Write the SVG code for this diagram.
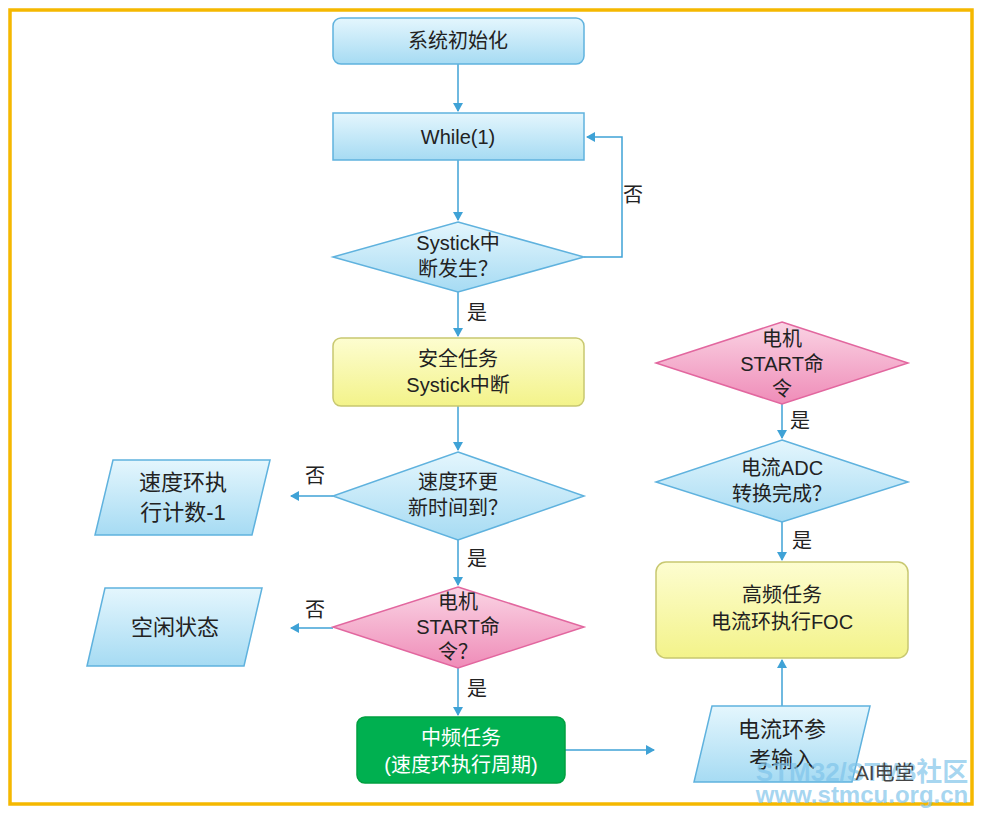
<svg xmlns="http://www.w3.org/2000/svg" width="985" height="817" viewBox="0 0 985 817">
<defs>
<linearGradient id="gb" x1="0" y1="0" x2="0" y2="1"><stop offset="0" stop-color="#e4f6fd"/><stop offset="1" stop-color="#a6dbf3"/></linearGradient>
<linearGradient id="gy" x1="0" y1="0" x2="0" y2="1"><stop offset="0" stop-color="#fdfdd0"/><stop offset="1" stop-color="#f3f38a"/></linearGradient>
<linearGradient id="gp" x1="0" y1="0" x2="0" y2="1"><stop offset="0" stop-color="#fad4e4"/><stop offset="1" stop-color="#ef8cb8"/></linearGradient>
<marker id="ar" markerWidth="10" markerHeight="10" refX="8" refY="5" orient="auto" markerUnits="userSpaceOnUse"><path d="M0,0 L9,5 L0,10 z" fill="#3fa2d6"/></marker>
<style>
.b{fill:url(#gb);stroke:#5fb2de;stroke-width:1.5}
.y{fill:url(#gy);stroke:#c8c870;stroke-width:1.5}
.p{fill:url(#gp);stroke:#e2679f;stroke-width:1.5}
.g{fill:#00b050;stroke:#00a040;stroke-width:1.5}
.t{font-family:"Liberation Sans","Noto Sans CJK SC",sans-serif;font-size:20px;fill:#222;text-anchor:middle}
.w{fill:#fff}
.l{font-family:"Noto Sans CJK SC",sans-serif;font-size:20px;fill:#222}
.c{fill:none;stroke:#3fa2d6;stroke-width:1.5;marker-end:url(#ar)}
</style>
</defs>
<rect x="10" y="10" width="962" height="794" fill="#fff" stroke="#f5b800" stroke-width="3.5"/>
<g id="connectors">
<path class="c" d="M458,64 V111"/>
<path class="c" d="M458,160 V220"/>
<path class="c" d="M584,257 H622 V137 H587"/>
<path class="c" d="M458,292 V336"/>
<path class="c" d="M458,406 V450"/>
<path class="c" d="M333,496 H291"/>
<path class="c" d="M458,540 V585"/>
<path class="c" d="M333,628 H291"/>
<path class="c" d="M458,668 V715"/>
<path class="c" d="M565,750 H654"/>
<path class="c" d="M782,706 V660"/>
<path class="c" d="M782,522 V560"/>
<path class="c" d="M782,404 V438"/>
<text class="l" x="623" y="202">否</text>
<text class="l" x="467" y="320">是</text>
<text class="l" x="305" y="483">否</text>
<text class="l" x="467" y="566">是</text>
<text class="l" x="305" y="617">否</text>
<text class="l" x="467" y="696">是</text>
<text class="l" x="790" y="428">是</text>
<text class="l" x="792" y="548">是</text>
</g>
<g id="init"><rect class="b" x="333" y="18" width="251" height="46" rx="8"/><text class="t" x="458" y="48">系统初始化</text></g>
<g id="while"><rect class="b" x="333" y="113" width="251" height="47"/><text class="t" x="458" y="144">While(1)</text></g>
<g id="d1"><polygon class="b" points="458,222 584,257 458,292 333,257"/><text class="t" x="458" y="250">Systick中</text><text class="t" x="458" y="276">断发生？</text></g>
<g id="safe"><rect class="y" x="333" y="338" width="251" height="68" rx="8"/><text class="t" x="458" y="366">安全任务</text><text class="t" x="458" y="392">Systick中断</text></g>
<g id="d2"><polygon class="b" points="458,452 584,496 458,540 333,496"/><text class="t" x="458" y="489">速度环更</text><text class="t" x="458" y="515">新时间到？</text></g>
<g id="cnt"><polygon class="b" points="113,460 270,460 252,535 95,535"/><text class="t" x="183" y="490" style="font-size:22px">速度环执</text><text class="t" x="183" y="520" style="font-size:22px">行计数-1</text></g>
<g id="d3"><polygon class="p" points="458,587 584,627 458,668 333,627"/><text class="t" x="458" y="609">电机</text><text class="t" x="458" y="634">START命</text><text class="t" x="458" y="659">令？</text></g>
<g id="idle"><polygon class="b" points="105,588 262,588 244,666 87,666"/><text class="t" x="175" y="635" style="font-size:22px">空闲状态</text></g>
<g id="mid"><rect class="g" x="357" y="717" width="208" height="66" rx="8"/><text class="t w" x="461" y="745">中频任务</text><text class="t w" x="461" y="772">(速度环执行周期)</text></g>
<g id="ref"><polygon class="b" points="712,706 870,706 852,782 694,782"/><text class="t" x="782" y="737" style="font-size:22px">电流环参</text><text class="t" x="782" y="767" style="font-size:22px">考输入</text></g>
<g id="high"><rect class="y" x="656" y="562" width="252" height="96" rx="10"/><text class="t" x="782" y="602">高频任务</text><text class="t" x="782" y="629">电流环执行FOC</text></g>
<g id="d4"><polygon class="b" points="782,440 908,482 782,522 656,482"/><text class="t" x="782" y="475">电流ADC</text><text class="t" x="782" y="501">转换完成？</text></g>
<g id="d5"><polygon class="p" points="782,322 908,363 782,404 656,363"/><text class="t" x="782" y="346">电机</text><text class="t" x="782" y="371">START命</text><text class="t" x="782" y="396">令</text></g>
<text x="862" y="781" font-family="'Liberation Sans','Noto Sans CJK SC',sans-serif" font-size="26" font-weight="bold" fill="#7fc4ea" fill-opacity="0.7" text-anchor="middle">STM32/STM8社区</text>
<text x="862" y="803" font-family="'Liberation Sans',sans-serif" font-size="24" font-weight="bold" fill="#7fc4ea" fill-opacity="0.7" text-anchor="middle">www.stmcu.org.cn</text>
<text x="885" y="780" font-family="'Liberation Sans','Noto Sans CJK SC',sans-serif" font-size="20" fill="#444" text-anchor="middle">AI电堂</text>
</svg>
